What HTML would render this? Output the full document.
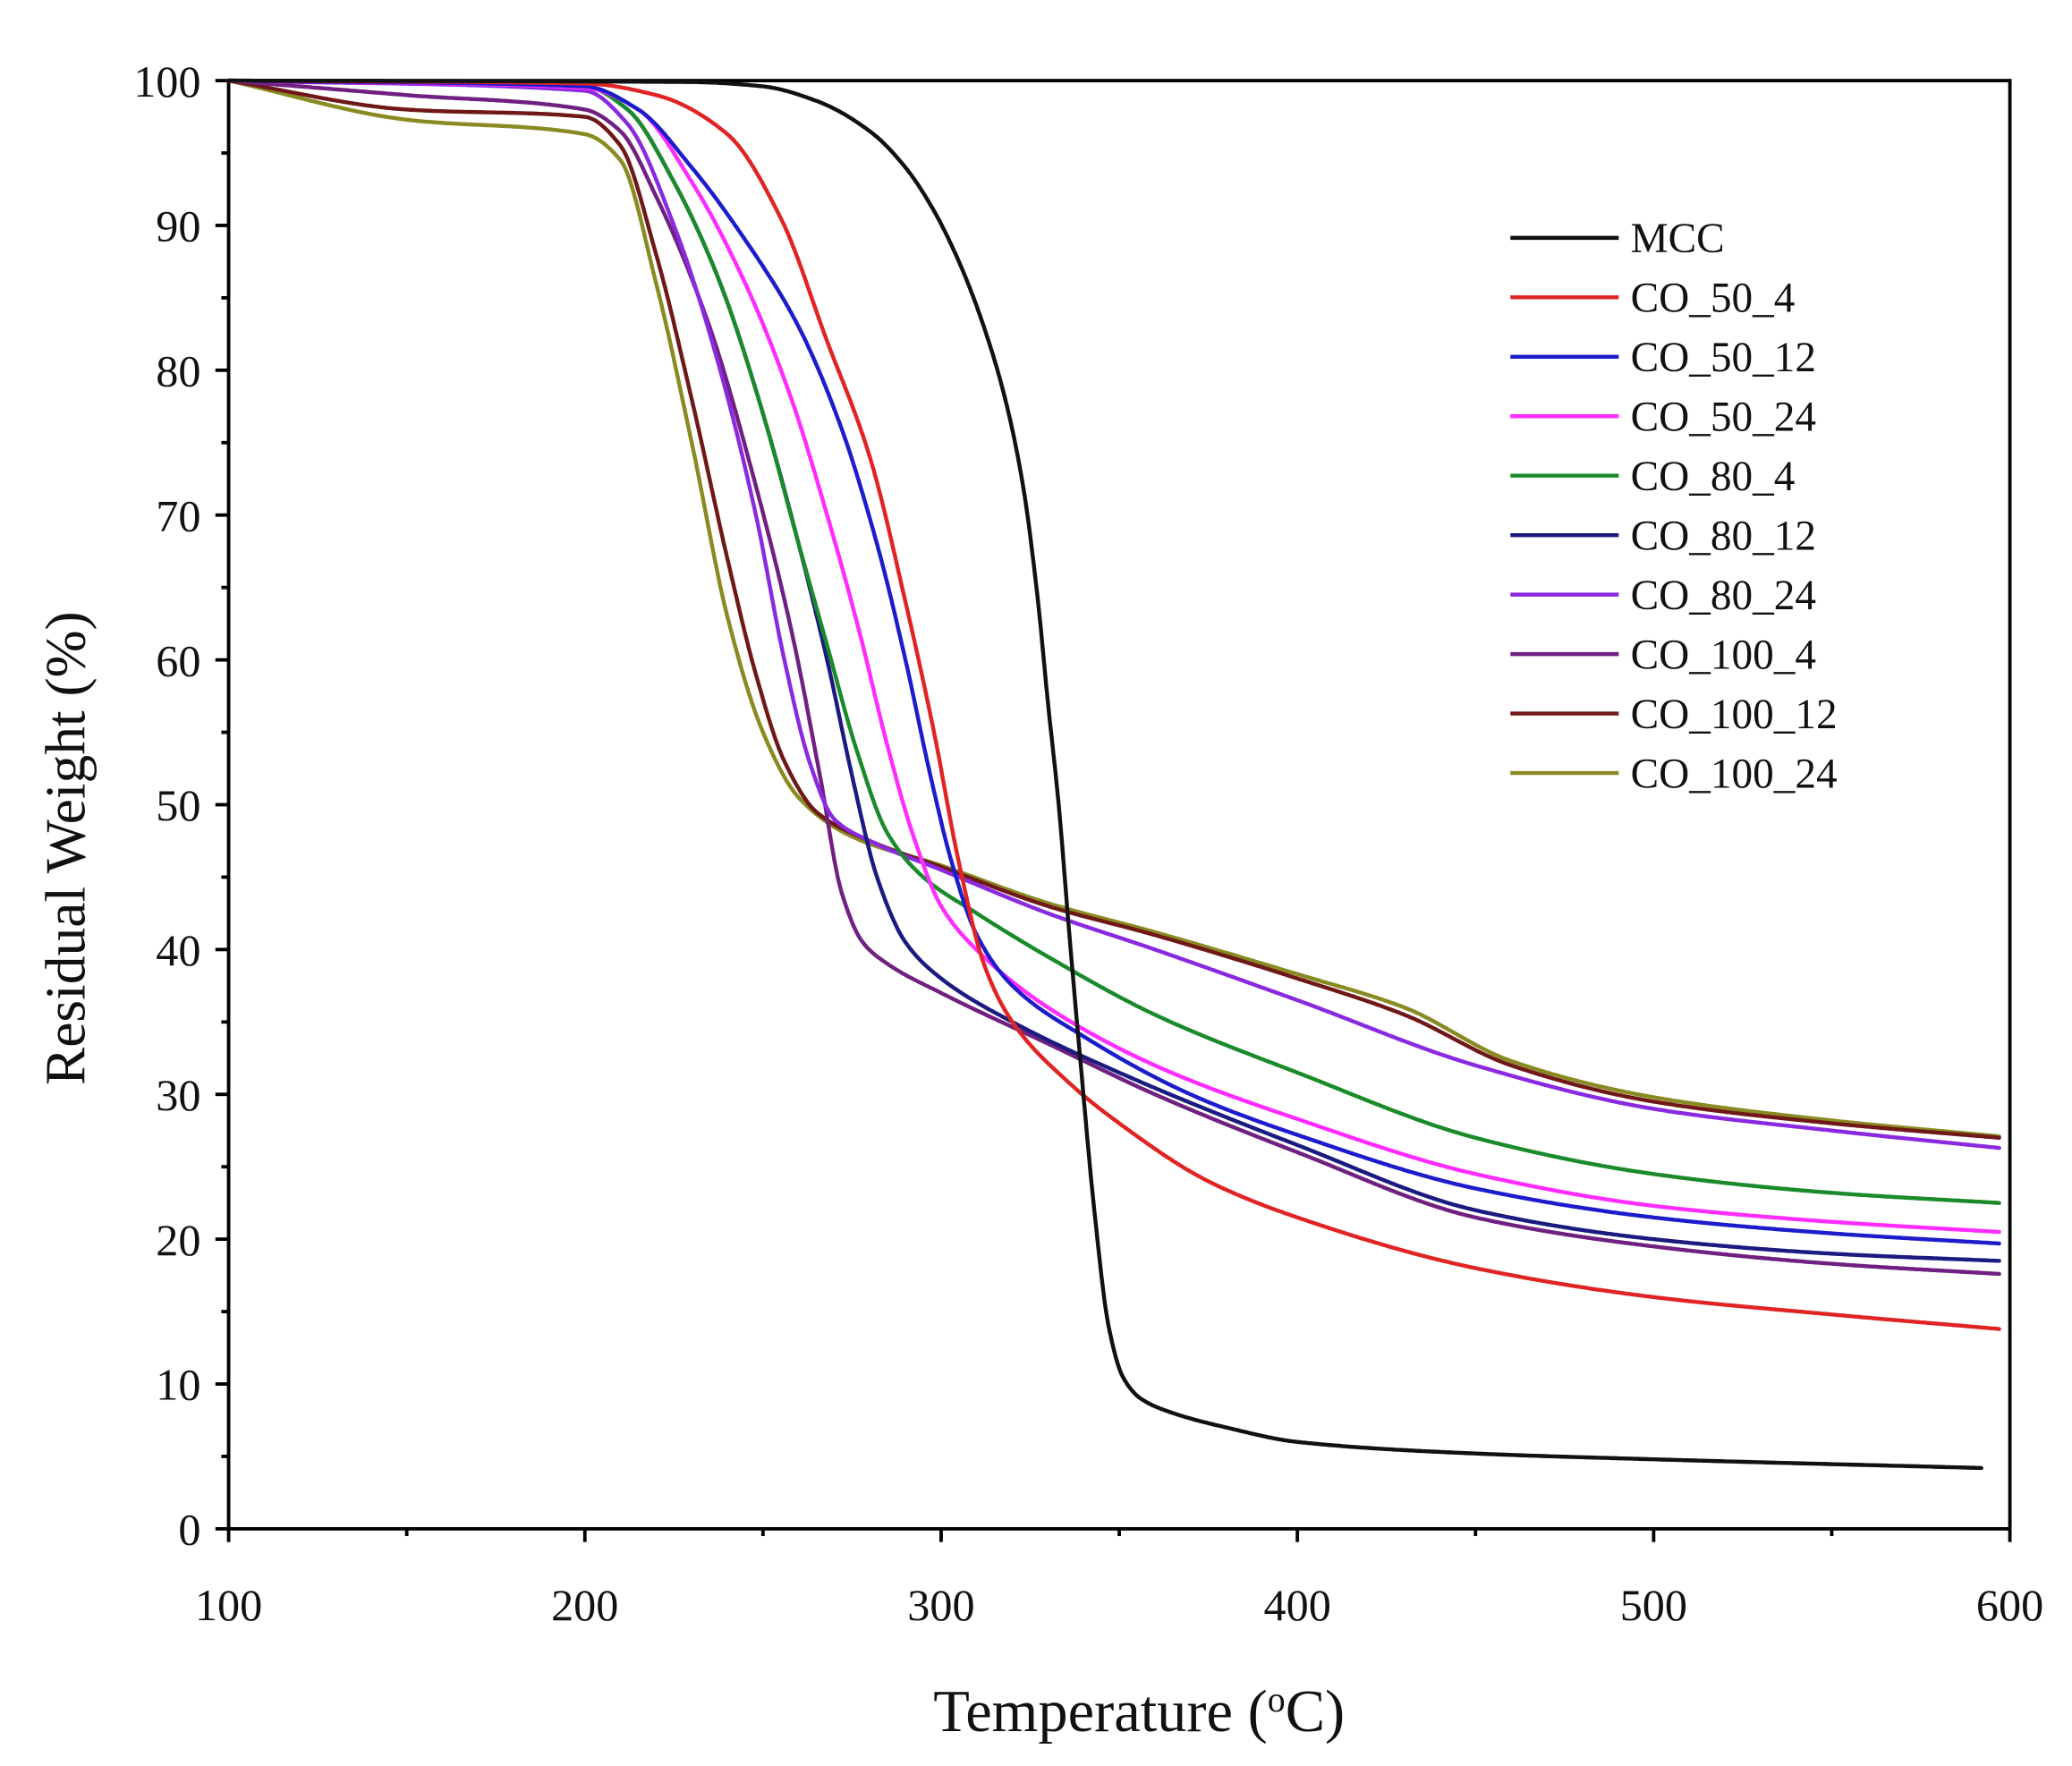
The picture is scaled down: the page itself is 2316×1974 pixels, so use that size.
<!DOCTYPE html>
<html><head><meta charset="utf-8"><style>html,body{margin:0;padding:0;background:#fff}svg{display:block}</style></head>
<body>
<svg id="s" width="2316" height="1974" viewBox="0 0 1568 1336.5" preserveAspectRatio="none" xmlns="http://www.w3.org/2000/svg" font-family="Liberation Serif, serif">
<g id="axes" stroke="#000" stroke-width="2.6" fill="none">
<rect x="173" y="61" width="1348" height="1096"/>
</g>
<g id="ticks" stroke="#000" stroke-width="2.6"></g>
<g id="labels" font-size="34" fill="#111"></g>
<g id="curves" fill="none" stroke-width="3" stroke-linejoin="round" stroke-linecap="round"></g>
<g id="legend" font-size="32" fill="#111"></g>
<text x="862" y="1310" font-size="45" text-anchor="middle" fill="#111">Temperature (<tspan baseline-shift="super" font-size="27">o</tspan>C)</text>
<text transform="translate(64,642) rotate(-90)" font-size="43" text-anchor="middle" fill="#111">Residual Weight (%)</text>
</svg>
<script>
const NS="http://www.w3.org/2000/svg";
const X=t=>173+(t-100)*2.696, Y=w=>1157-w*10.96;
function el(tag,attrs,parent,txt){const e=document.createElementNS(NS,tag);for(const k in attrs)e.setAttribute(k,attrs[k]);if(txt!==undefined)e.textContent=txt;parent.appendChild(e);return e;}
const tk=document.getElementById('ticks'),lb=document.getElementById('labels');
for(let w=0;w<=100;w+=5){const maj=w%10==0;el('line',{x1:173,x2:173-(maj?10:5.5),y1:Y(w),y2:Y(w)},tk);
 if(maj)el('text',{x:152,y:Y(w)+12,'text-anchor':'end'},lb,String(w));}
for(let t=100;t<=600;t+=50){const maj=t%100==0;el('line',{x1:X(t),x2:X(t),y1:1157,y2:1157+(maj?10:5.5)},tk);
 if(maj)el('text',{x:X(t),y:1226,'text-anchor':'middle'},lb,String(t));}
const S=[
["MCC","#111",[[100,100],[230,99.9],[250,99.6],[265,98.6],[280,96.5],[290,94],[298,91],[305,87.5],[312,83],[318,78],[323,72],[327,64.5],[330,57],[333,50],[336,41],[339,32.6],[343,22],[347,14],[351,10.5],[356,9],[365,8],[380,7],[400,6],[450,5.2],[500,4.8],[592,4.2]]],
["CO_50_4","#e02424",[[100,100],[200,99.8],[220,99],[240,96.3],[255,90.5],[268,82],[280,74],[290,64],[298,55],[305,46],[312,39],[320,35],[335,31],[350,28],[375,24],[400,21.5],[450,18],[500,16],[550,14.8],[597,13.8]]],
["CO_50_12","#1c1ccc",[[100,100],[200,99.6],[215,98],[230,94],[245,89],[260,83],[272,76],[282,68],[290,60],[297,52],[303,46],[310,41],[320,37.5],[340,34],[370,30],[400,27.2],[450,23.5],[500,21.5],[550,20.4],[597,19.7]]],
["CO_50_24","#ff2cff",[[100,100],[200,99.5],[215,98],[230,93],[245,86],[258,78],[268,70],[277,62],[285,54],[292,48],[300,43],[312,39.5],[330,36],[360,32],[400,28.3],[450,24.5],[500,22.3],[550,21.2],[597,20.5]]],
["CO_80_4","#1a8a2a",[[100,100],[200,99.6],[212,98],[225,93],[238,86],[250,77],[260,68],[268,61],[276,54],[285,48],[295,45],[310,42.5],[330,39.5],[360,35.5],[400,31.5],[450,27],[500,24.5],[550,23.2],[597,22.5]]],
["CO_80_12","#1a1a80",[[100,100],[200,99.6],[212,98],[225,93],[238,86],[250,77],[260,68],[268,60],[275,52],[282,45],[290,40.5],[300,38],[320,35],[350,31.5],[400,26.5],[450,22],[500,20],[550,19],[597,18.5]]],
["CO_80_24","#8a2ae0",[[100,100],[200,99.3],[212,97],[225,90],[238,80],[248,70],[256,60],[263,53],[270,49],[280,47.5],[300,45.5],[330,42.5],[360,40],[400,36.5],[450,32],[500,29],[550,27.5],[597,26.3]]],
["CO_100_4","#702080",[[100,100],[150,99],[200,98],[210,96.5],[220,92],[235,83],[248,72],[258,62],[266,52],[272,44],[278,40.5],[285,39],[300,37],[330,33.5],[360,30],[400,26],[450,21.5],[500,19.5],[550,18.3],[597,17.6]]],
["CO_100_12","#701818",[[100,100],[150,98],[200,97.5],[210,95.5],[220,88],[230,78],[240,67],[248,59],[256,53],[265,49.5],[280,47.5],[300,45.7],[330,43],[360,41],[400,38],[430,35.5],[460,32],[500,29.5],[550,28],[597,27]]],
["CO_100_24","#8a8a22",[[100,100],[150,97.3],[200,96.3],[210,94.5],[220,86],[230,75],[240,63],[250,55],[260,50.5],[275,47.8],[300,45.8],[330,43.2],[360,41.2],[400,38.3],[430,36],[460,32.3],[500,29.8],[550,28.2],[597,27.1]]]
];
function mono(pts){const n=pts.length,x=pts.map(p=>p[0]),y=pts.map(p=>p[1]);const d=[],m=new Array(n);
 for(let i=0;i<n-1;i++)d.push((y[i+1]-y[i])/(x[i+1]-x[i]));
 m[0]=d[0];m[n-1]=d[n-2];
 for(let i=1;i<n-1;i++){if(d[i-1]*d[i]<=0)m[i]=0;else{const w1=2*(x[i+1]-x[i])+(x[i]-x[i-1]),w2=(x[i+1]-x[i])+2*(x[i]-x[i-1]);m[i]=(w1+w2)/(w1/d[i-1]+w2/d[i]);}}
 let out=[];
 for(let i=0;i<n-1;i++){const h=x[i+1]-x[i];const steps=Math.max(2,Math.ceil(h*2));
  for(let k=(i==0?0:1);k<=steps;k++){const s=k/steps,s2=s*s,s3=s2*s;
   const v=(2*s3-3*s2+1)*y[i]+(s3-2*s2+s)*h*m[i]+(-2*s3+3*s2)*y[i+1]+(s3-s2)*h*m[i+1];
   out.push([x[i]+s*h,v]);}}
 return 'M'+out.map(([t,w])=>X(t).toFixed(1)+','+Y(w).toFixed(1)).join(' L');}
const cv=document.getElementById('curves'),lg=document.getElementById('legend');
S.slice().reverse().forEach(s=>el('path',{d:mono(s[2]),stroke:s[1]},cv));
S.forEach((s,i)=>{const y=180+i*45;el('line',{x1:1143,x2:1225,y1:y,y2:y,stroke:s[1],'stroke-width':3},lg);
 el('text',{x:1234,y:y+11},lg,s[0]);});
</script>
</body></html>
